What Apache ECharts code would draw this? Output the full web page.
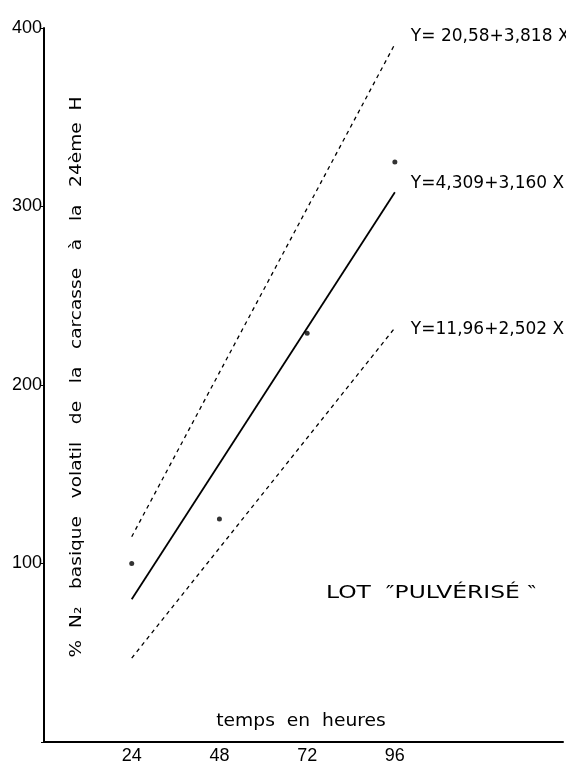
<!DOCTYPE html>
<html>
<head>
<meta charset="utf-8">
<script src="https://cdn.jsdelivr.net/npm/echarts@6/dist/echarts.min.js"></script>
<style>
html,body{margin:0;padding:0;background:#fff;}
#chart{width:566px;height:765px;}
</style>
</head>
<body>
<div id="chart"></div>
<script>
// ---- data ----
const xTicks = [24, 48, 72, 96];
const yTicks = [100, 200, 300, 400];
const lineX = [24, 96];
const meanLine = [80, 308];      // Y=4,309+3,160 X
const upperLine = [115, 391];    // Y=20,58+3,818 X
const lowerLine = [47, 232];     // Y=11,96+2,502 X
const pointX = [24, 48, 72, 96];
const pointY = [100, 125, 229, 325];
const eqUpper = 'Y= 20,58+3,818 X';
const eqMean = 'Y=4,309+3,160 X';
const eqLower = 'Y=11,96+2,502 X';
const yTitle = '%  N₂   basique   volatil   de   la   carcasse   à   la   24ème  H';
const xTitle = 'temps  en  heures';
const lotText = 'LOT  ″PULVÉRISÉ ‶';

const pairs = (xs, ys) => xs.map((x, i) => [x, ys[i]]);
const font = '"DejaVu Sans", "Liberation Sans", sans-serif';

const chart = echarts.init(document.getElementById('chart'));
const lineBase = (data, dashed, eq, off) => ({
  type: 'line',
  data: data,
  symbol: 'none',
  silent: true,
  lineStyle: { color: '#000', width: dashed ? 1.3 : 1.8, type: dashed ? [4, 4] : 'solid' },
  endLabel: {
    show: true, formatter: eq, color: '#000', fontSize: 17, fontFamily: font,
    offset: off, align: 'left'
  }
});

chart.setOption({
  animation: false,
  backgroundColor: '#fff',
  grid: { left: 44, right: 0, top: 28, bottom: 22, containLabel: false },
  xAxis: {
    type: 'value', min: 0, max: 142, interval: 24,
    axisLine: { show: true, lineStyle: { color: '#000', width: 2 } },
    axisTick: { show: false },
    splitLine: { show: false },
    axisLabel: {
      color: '#000', fontSize: 18, fontFamily: '"Liberation Sans", sans-serif', margin: 5,
      formatter: v => xTicks.includes(v) ? String(v) : ''
    }
  },
  yAxis: {
    type: 'value', min: 0, max: 400, interval: 100,
    axisLine: { show: true, lineStyle: { color: '#000', width: 2 } },
    axisTick: { show: true, length: 3, lineStyle: { color: '#000' } },
    splitLine: { show: false },
    axisLabel: {
      color: '#000', fontSize: 18, fontFamily: '"Liberation Sans", sans-serif', margin: 2,
      padding: [0, 0, 6, 0],
      formatter: v => yTicks.includes(v) ? String(v) : ''
    }
  },
  series: [
    lineBase(pairs(lineX, upperLine), true, eqUpper, [8, -7]),
    lineBase(pairs(lineX, meanLine), false, eqMean, [8, -9]),
    lineBase(pairs(lineX, lowerLine), true, eqLower, [8, 2]),
    {
      type: 'scatter', data: pairs(pointX, pointY), symbol: 'circle', symbolSize: 5,
      itemStyle: { color: '#000' }, silent: true
    }
  ],
  graphic: [
    {
      type: 'text', x: 77, y: 377, rotation: Math.PI / 2, scaleX: 1.16,
      style: {
        text: yTitle, fill: '#000', font: '16px ' + font,
        align: 'center', verticalAlign: 'middle'
      }
    },
    {
      type: 'text', x: 301, y: 722, scaleX: 1.1,
      style: { text: xTitle, fill: '#000', font: '17px ' + font, align: 'center', verticalAlign: 'middle' }
    },
    {
      type: 'text', x: 431, y: 593, scaleX: 1.3,
      style: { text: lotText, fill: '#000', font: '18px ' + font, align: 'center', verticalAlign: 'middle' }
    }
  ]
});
</script>
</body>
</html>
